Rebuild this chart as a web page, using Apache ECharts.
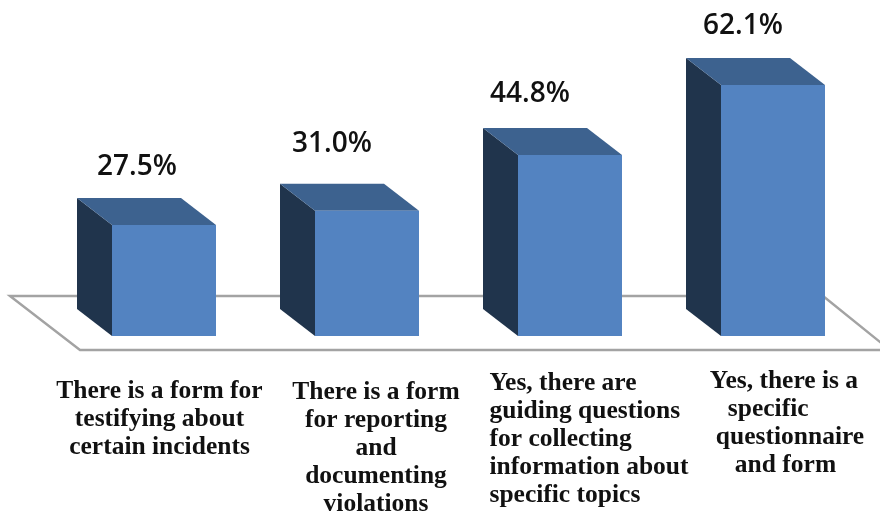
<!DOCTYPE html>
<html>
<head>
<meta charset="utf-8">
<style>html,body{margin:0;padding:0;background:#fff}#c{width:880px;height:514px}</style>
<script src="https://cdn.jsdelivr.net/npm/echarts@6/dist/echarts.min.js"></script>
</head>
<body>
<div id="c"></div>
<script>
const categories = [
  "There is a form for\ntestifying about\ncertain incidents",
  "There is a form\nfor reporting\nand\ndocumenting\nviolations",
  "Yes, there are\nguiding questions\nfor collecting\ninformation about\nspecific topics",
  "Yes, there is a\nspecific\nquestionnaire\nand form"
];
const values = [27.5, 31.0, 44.8, 62.1];
const valueLabels = ["27.5%", "31.0%", "44.8%", "62.1%"];

const labelShift = [[-27, -31], [-35, -40], [-40, -34], [-30, -32]];
const depthX = 35, depthY = 27, faceWidth = 104;
const chart = echarts.init(document.getElementById('c'), null, {renderer: 'canvas'});

function renderFloor(params, api) {
  const y0 = api.coord([0, 0])[1];
  const cs = params.coordSys;
  const left = cs.x - 52.5;
  return {
    type: 'polygon',
    shape: {points: [[left, y0 - 40], [left + 70, y0 + 14], [left + 880, y0 + 14], [left + 813, y0 - 40]]},
    style: {fill: '#fff', stroke: '#a3a3a3', lineWidth: 2.4}
  };
}

function renderBar(params, api) {
  const i = params.dataIndex;
  const top = api.coord([api.value(0), api.value(1)]);
  const base = api.coord([api.value(0), 0]);
  const l = top[0] - faceWidth / 2, r = top[0] + faceWidth / 2;
  const t = top[1], b = base[1];
  return {
    type: 'group',
    children: [
      {type: 'polygon', shape: {points: [[l, t], [l - depthX, t - depthY], [l - depthX, b - depthY], [l, b]]},
        style: {fill: '#20344c'}},
      {type: 'polygon', shape: {points: [[l, t], [l - depthX, t - depthY], [r - depthX, t - depthY], [r, t]]},
        style: {fill: '#3d628f'}},
      {type: 'rect', shape: {x: l, y: t, width: r - l, height: b - t},
        style: {fill: '#5383c1'}},
      {type: 'text', style: {
        text: valueLabels[i],
        x: top[0] + labelShift[i][0],
        y: t - depthY + labelShift[i][1],
        align: 'center', verticalAlign: 'middle',
        font: '600 28px "Open Sans"', fill: '#111'
      }}
    ]
  };
}

const indentStyles = {
  l: {},
  p18: {padding: [0, 0, 0, 18]},
  p6: {padding: [0, 0, 0, 6]},
  p25: {padding: [0, 0, 0, 25]}
};
Object.values(indentStyles).forEach(s => { s.align = 'left'; s.lineHeight = 28; s.fontSize = 25.5; s.fontWeight = 'bold'; s.fontFamily = 'Liberation Serif'; s.color = '#111'; });
const fourthIndents = ['l', 'p18', 'p6', 'p25'];

chart.setOption({
  animation: false,
  backgroundColor: '#fff',
  grid: {left: 62.5, width: 812, top: 12.8, bottom: 178, outerBoundsMode: 'none'},
  xAxis: {
    type: 'category',
    data: [
      {value: categories[0], textStyle: {padding: [12, 9, 0, 0]}},
      {value: categories[1], textStyle: {padding: [13, 0, 0, 18]}},
      {value: categories[2], textStyle: {padding: [4, 0, 0, 38]}},
      {value: categories[3], textStyle: {padding: [2, 0, 0, 28]}}
    ],
    axisLine: {show: false},
    axisTick: {show: false},
    axisLabel: {
      interval: 0, margin: 29, lineHeight: 28, fontSize: 25.5, fontWeight: 'bold',
      fontFamily: 'Liberation Serif', color: '#111', align: 'center', verticalAlign: 'top',
      rich: indentStyles,
      formatter: (v, i) => {
        if (i < 2) return v;
        return v.split('\n').map((line, k) => `{${i === 3 ? fourthIndents[k] : 'l'}|${line}}`).join('\n');
      }
    }
  },
  yAxis: {type: 'value', min: 0, max: 80, show: false},
  series: [
    {type: 'custom', coordinateSystem: 'cartesian2d', renderItem: renderFloor, data: [[0, 0]], z: 1, silent: true},
    {type: 'custom', coordinateSystem: 'cartesian2d', renderItem: renderBar,
      encode: {x: 0, y: 1}, data: values.map((v, i) => [i, v]), z: 2}
  ]
});
</script>
</body>
</html>
